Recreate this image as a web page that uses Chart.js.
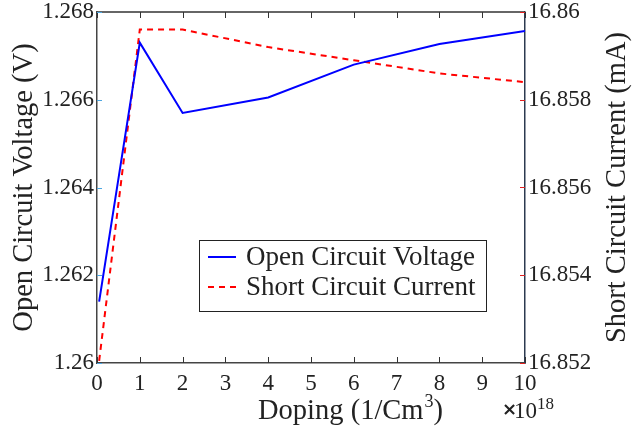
<!DOCTYPE html>
<html>
<head>
<meta charset="utf-8">
<script src="https://cdn.jsdelivr.net/npm/chart.js@4"></script>
<style>
  html, body { margin: 0; padding: 0; background: #fff; }
  #wrap { width: 637px; height: 430px; }
</style>
</head>
<body>
<div id="wrap"><canvas id="chart" width="637" height="430"></canvas></div>
<script>
// Data (doping in units of 1e18 /cm^3)
const doping = [0.05, 1, 2, 4, 6, 8, 10];
const voltage = [1.2614, 1.2673, 1.2657, 1.26605, 1.2668, 1.26727, 1.26757];
const current = [16.85205, 16.8596, 16.8596, 16.8592, 16.8589, 16.8586, 16.8584];

// tick labels
const xTicks = [0, 1, 2, 3, 4, 5, 6, 7, 8, 9, 10];
const voltTicks = [1.26, 1.262, 1.264, 1.266, 1.268];
const currTicks = [16.852, 16.854, 16.856, 16.858, 16.86];

const labelVoc = "Open Circuit Voltage";
const labelIsc = "Short Circuit Current";

const FONT = "'Liberation Serif', 'Times New Roman', serif";

function toPoints(xs, ys) {
    return xs.map((x, i) => ({ x: x, y: ys[i] }));
}

function fixedTicks(list) {
    return function (scale) {
        scale.ticks = list.map(v => ({ value: v }));
    };
}

// fixed box sizes, no extra padding for overflowing labels
function fitBox(w, h) {
    return function (s) {
        if (w) s.width = w;
        if (h) s.height = h;
        s.paddingTop = 0; s.paddingBottom = 0;
        s.paddingLeft = 0; s.paddingRight = 0;
    };
}

// Extra drawing: top frame, inward tick marks, axis titles, legend box, exponent
const decorPlugin = {
    id: "decor",
    afterDraw(chart) {
        const ctx = chart.ctx;
        const a = chart.chartArea;
        const sx = chart.scales.x, sy = chart.scales.y, sy1 = chart.scales.y1;
        ctx.save();

        // top frame line
        ctx.strokeStyle = "#333";
        ctx.lineWidth = 1.5;
        ctx.beginPath();
        ctx.moveTo(a.left, a.top);
        ctx.lineTo(a.right, a.top);
        ctx.stroke();

        // x tick marks (bottom and top, inward)
        ctx.lineWidth = 1;
        ctx.strokeStyle = "#333";
        xTicks.forEach(v => {
            const px = Math.round(sx.getPixelForValue(v)) + 0.5;
            ctx.beginPath();
            ctx.moveTo(px, a.bottom); ctx.lineTo(px, a.bottom - 6);
            ctx.moveTo(px, a.top); ctx.lineTo(px, a.top + 6);
            ctx.stroke();
        });

        // left ticks (light blue)
        ctx.strokeStyle = "#4da6e0";
        voltTicks.forEach(v => {
            const py = Math.round(sy.getPixelForValue(v)) + 0.5;
            ctx.beginPath();
            ctx.moveTo(a.left, py); ctx.lineTo(a.left + 5, py);
            ctx.stroke();
        });

        // right ticks (red)
        ctx.strokeStyle = "#e02020";
        currTicks.forEach(v => {
            const py = Math.round(sy1.getPixelForValue(v)) + 0.5;
            ctx.beginPath();
            ctx.moveTo(a.right, py); ctx.lineTo(a.right - 5, py);
            ctx.stroke();
        });

        const cy = (a.top + a.bottom) / 2;
        const titleFont = "28.5px " + FONT;
        ctx.fillStyle = "#222";
        ctx.textBaseline = "middle";
        ctx.textAlign = "center";
        ctx.font = titleFont;

        // left title
        ctx.save();
        ctx.translate(25, cy);
        ctx.rotate(-Math.PI / 2);
        ctx.fillText("Open Circuit Voltage (V)", 0, 0);
        ctx.restore();

        // right title (reads bottom to top)
        ctx.save();
        ctx.translate(618, cy);
        ctx.rotate(-Math.PI / 2);
        ctx.fillText("Short Circuit Current (mA)", 0, 0);
        ctx.restore();

        // bottom title with superscript
        ctx.textAlign = "left";
        ctx.textBaseline = "alphabetic";
        const t1 = "Doping (1/Cm", t2 = "3", t3 = ")";
        ctx.font = titleFont;
        const w1 = ctx.measureText(t1).width;
        const w3 = ctx.measureText(t3).width;
        ctx.font = "18px " + FONT;
        const w2 = ctx.measureText(t2).width;
        let bx = 350 - (w1 + w2 + w3) / 2;
        const by = 419;
        ctx.font = titleFont;
        ctx.fillText(t1, bx, by);
        ctx.font = "18px " + FONT;
        ctx.fillText(t2, bx + w1 + 1, by - 12);
        ctx.font = titleFont;
        ctx.fillText(t3, bx + w1 + w2 + 1, by);

        // exponent label
        ctx.font = "bold 18px 'DejaVu Sans', sans-serif";
        ctx.fillText("\u00d7", 502, 415);
        ctx.font = "23px " + FONT;
        ctx.fillText("10", 514, 418);
        ctx.font = "17px " + FONT;
        ctx.fillText("18", 537, 409);

        // legend box inside plot
        const lx = 199, ly = 240, lw = 287, lh = 71;
        ctx.fillStyle = "#fff";
        ctx.fillRect(lx, ly, lw, lh);
        ctx.strokeStyle = "#222";
        ctx.lineWidth = 1;
        ctx.strokeRect(lx + 0.5, ly + 0.5, lw, lh);
        const rows = [ly + 17, ly + 47];
        chart.data.datasets.forEach((ds, i) => {
            ctx.strokeStyle = ds.borderColor;
            ctx.lineWidth = 2;
            ctx.setLineDash(ds.borderDash || []);
            ctx.beginPath();
            ctx.moveTo(lx + 9, rows[i]);
            ctx.lineTo(lx + 37, rows[i]);
            ctx.stroke();
            ctx.setLineDash([]);
            ctx.fillStyle = "#222";
            ctx.font = "27px " + FONT;
            ctx.textBaseline = "middle";
            ctx.fillText(ds.label, lx + 47, rows[i] + 1);
        });

        ctx.restore();
    }
};

const ctx = document.getElementById("chart").getContext("2d");

new Chart(ctx, {
    type: "line",
    data: {
        datasets: [
            {
                label: labelVoc,
                data: toPoints(doping, voltage),
                yAxisID: "y",
                borderColor: "#0000ff",
                borderWidth: 2,
                pointRadius: 0,
                tension: 0,
                fill: false
            },
            {
                label: labelIsc,
                data: toPoints(doping, current),
                yAxisID: "y1",
                borderColor: "#ff0000",
                borderDash: [6, 5],
                borderWidth: 2,
                pointRadius: 0,
                tension: 0,
                fill: false
            }
        ]
    },
    options: {
        responsive: false,
        animation: false,
        layout: { padding: { top: 12, left: 0, right: 0, bottom: 0 } },
        plugins: {
            legend: { display: false },
            tooltip: { enabled: false }
        },
        scales: {
            x: {
                type: "linear",
                min: 0,
                max: 10,
                afterBuildTicks: fixedTicks(xTicks),
                afterFit: fitBox(0, 67),
                grid: { display: false, drawTicks: false },
                border: { display: true, color: "#444", width: 1.5 },
                ticks: {
                    color: "#222",
                    padding: 7,
                    maxRotation: 0,
                    font: { family: FONT, size: 23 }
                }
            },
            y: {
                type: "linear",
                position: "left",
                min: 1.26,
                max: 1.268,
                afterBuildTicks: fixedTicks(voltTicks),
                afterFit: fitBox(97, 0),
                grid: { display: false, drawTicks: false },
                border: { display: true, color: "#444", width: 1.5 },
                ticks: {
                    color: "#222",
                    padding: 3,
                    font: { family: FONT, size: 23 },
                    callback: v => String(+v.toFixed(3))
                }
            },
            y1: {
                type: "linear",
                position: "right",
                min: 16.852,
                max: 16.86,
                afterBuildTicks: fixedTicks(currTicks),
                afterFit: fitBox(112, 0),
                grid: { display: false, drawTicks: false },
                border: { display: true, color: "#2c3a50", width: 1.5 },
                ticks: {
                    color: "#222",
                    padding: 3,
                    font: { family: FONT, size: 23 },
                    callback: v => String(+v.toFixed(3))
                }
            }
        }
    },
    plugins: [decorPlugin]
});
</script>
</body>
</html>
